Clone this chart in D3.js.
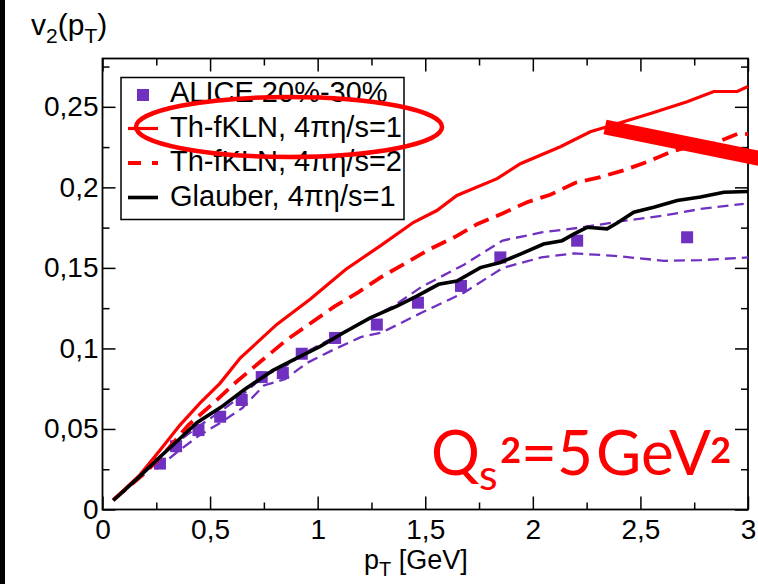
<!DOCTYPE html>
<html>
<head>
<meta charset="utf-8">
<script src="https://cdn.jsdelivr.net/npm/d3@7"></script>
<style>
  body { margin: 0; background: #fff; }
  svg { display: block; }
</style>
</head>
<body>
<div id="chart"></div>
<script>
// ---- data ----
var xTicks = [0, 0.5, 1, 1.5, 2, 2.5, 3];
var yTicks = [0, 0.05, 0.1, 0.15, 0.2, 0.25];
var xMinor = [0.25, 0.75, 1.25, 1.75, 2.25, 2.75];
var yMinor = [0.025, 0.075, 0.125, 0.175, 0.225, 0.275];

// ALICE 20%-30%
var aliceX = [0.267, 0.342, 0.446, 0.547, 0.647, 0.740, 0.838, 0.926, 1.081, 1.275, 1.466, 1.666, 1.849, 2.206, 2.717];
var aliceY = [0.0285, 0.0393, 0.0493, 0.0576, 0.068, 0.0822, 0.0847, 0.0967, 0.1065, 0.1148, 0.1284, 0.1388, 0.1565, 0.1669, 0.169];

// Th-fKLN, 4pi eta/s = 1
var fkln1X = [0.05, 0.174, 0.267, 0.36, 0.453, 0.547, 0.64, 0.81, 0.965, 1.13, 1.291, 1.446, 1.554, 1.647, 1.834, 1.942, 2.128, 2.267, 2.345, 2.547, 2.717, 2.841, 2.95, 3.0];
var fkln1Y = [0.006, 0.0215, 0.0368, 0.0524, 0.066, 0.0785, 0.094, 0.1149, 0.1305, 0.149, 0.1637, 0.1783, 0.1856, 0.195, 0.2054, 0.2147, 0.2252, 0.2345, 0.2376, 0.2459, 0.2532, 0.2595, 0.2595, 0.2626];

// Th-fKLN, 4pi eta/s = 2
var fkln2X = [0.05, 0.2, 0.3, 0.4, 0.515, 0.62, 0.736, 0.853, 0.965, 1.077, 1.19, 1.291, 1.422, 1.515, 1.635, 1.743, 1.864, 1.973, 2.081, 2.198, 2.314, 2.422, 2.531, 2.64, 2.75, 2.841, 2.957, 3.0];
var fkln2Y = [0.006, 0.023, 0.037, 0.0525, 0.066, 0.079, 0.092, 0.105, 0.1155, 0.1259, 0.135, 0.144, 0.154, 0.1612, 0.169, 0.1773, 0.1841, 0.1908, 0.1954, 0.2029, 0.2064, 0.2106, 0.2158, 0.222, 0.226, 0.2272, 0.2335, 0.233];

// Glauber, 4pi eta/s = 1
var glauberX = [0.05, 0.174, 0.267, 0.36, 0.44, 0.55, 0.66, 0.79, 0.903, 1.012, 1.12, 1.244, 1.368, 1.461, 1.562, 1.647, 1.756, 1.849, 1.942, 2.05, 2.136, 2.19, 2.252, 2.345, 2.392, 2.469, 2.562, 2.671, 2.779, 2.888, 3.0];
var glauberY = [0.0056, 0.0207, 0.0326, 0.0441, 0.054, 0.0634, 0.0745, 0.0862, 0.094, 0.1013, 0.1097, 0.119, 0.1263, 0.1325, 0.1398, 0.1419, 0.1502, 0.1534, 0.1586, 0.1648, 0.1669, 0.171, 0.1752, 0.1742, 0.1779, 0.1846, 0.1877, 0.1918, 0.194, 0.197, 0.1974];

// data band (purple dashed)
var bandUpX = [0.25, 0.35, 0.45, 0.55, 0.65, 0.75, 0.85, 0.95, 1.05, 1.2, 1.35, 1.48, 1.68, 1.86, 2.04, 2.22, 2.41, 2.61, 2.78, 2.98];
var bandUpY = [0.031, 0.042, 0.052, 0.061, 0.071, 0.083, 0.089, 0.098, 0.105, 0.116, 0.126, 0.138, 0.152, 0.167, 0.172, 0.175, 0.179, 0.1825, 0.1866, 0.1898];
var bandLoX = [0.25, 0.35, 0.45, 0.55, 0.65, 0.75, 0.85, 0.95, 1.07, 1.2, 1.3, 1.48, 1.68, 1.86, 2.04, 2.19, 2.38, 2.61, 2.78, 3.0];
var bandLoY = [0.025, 0.036, 0.046, 0.054, 0.063, 0.077, 0.081, 0.091, 0.099, 0.107, 0.110, 0.122, 0.1346, 0.150, 0.1565, 0.159, 0.1575, 0.1544, 0.1548, 0.1565];

var legendLabels = ["ALICE 20%-30%", "Th-fKLN, 4\u03c0\u03b7/s=1", "Th-fKLN, 4\u03c0\u03b7/s=2", "Glauber, 4\u03c0\u03b7/s=1"];

var red = "#ff0000";
var purple = "#7030c0";
var sans = "'Liberation Sans', Arial, sans-serif";
var qf = "Lato, 'Open Sans', sans-serif";

// ---- layout ----
var svgWidth = 758;
var svgHeight = 584;
var plot = { left: 102.5, right: 748, top: 58.5, bottom: 509.5 };

var svg = d3.select("#chart").append("svg")
  .attr("width", svgWidth)
  .attr("height", svgHeight)
  .style("font-family", sans);

// dark strip on the left edge of the slide
svg.append("rect").attr("x", 0).attr("y", 0).attr("width", 5).attr("height", svgHeight).attr("fill", "#000");

var x = d3.scaleLinear().domain([0, 3]).range([plot.left, plot.right]);
var y = d3.scaleLinear().domain([0, 0.28]).range([plot.bottom, plot.top]);

function fmt(d) { return String(d).replace(".", ","); }
function zip(xs, ys) { return xs.map(function(v, i) { return [v, ys[i]]; }); }

// axes with inward ticks (bottom/left labelled, top/right mirrored)
var gx = svg.append("g").attr("transform", "translate(0," + plot.bottom + ")")
  .call(d3.axisBottom(x).tickValues(xTicks).tickSize(-13).tickPadding(10).tickFormat(fmt));
svg.append("g").attr("transform", "translate(0," + plot.bottom + ")")
  .call(d3.axisBottom(x).tickValues(xMinor).tickSize(-7).tickFormat(""));
var gy = svg.append("g").attr("transform", "translate(" + plot.left + ",0)")
  .call(d3.axisLeft(y).tickValues(yTicks).tickSize(-13).tickPadding(4).tickFormat(fmt));
svg.append("g").attr("transform", "translate(" + plot.left + ",0)")
  .call(d3.axisLeft(y).tickValues(yMinor).tickSize(-7).tickFormat(""));
svg.append("g").attr("transform", "translate(0," + plot.top + ")")
  .call(d3.axisTop(x).tickValues(xTicks).tickSize(-13).tickFormat(""));
svg.append("g").attr("transform", "translate(0," + plot.top + ")")
  .call(d3.axisTop(x).tickValues(xMinor).tickSize(-7).tickFormat(""));
svg.append("g").attr("transform", "translate(" + plot.right + ",0)")
  .call(d3.axisRight(y).tickValues(yTicks).tickSize(-13).tickFormat(""));
svg.append("g").attr("transform", "translate(" + plot.right + ",0)")
  .call(d3.axisRight(y).tickValues(yMinor).tickSize(-7).tickFormat(""));

svg.selectAll(".domain").remove();
svg.selectAll(".tick line").attr("stroke", "#000").attr("stroke-width", 1.5);
gx.selectAll("text").attr("font-size", 28).attr("fill", "#000");
gy.selectAll("text").attr("font-size", 28).attr("fill", "#000");
svg.selectAll("g").attr("font-family", null);

svg.append("rect")
  .attr("x", plot.left).attr("y", plot.top)
  .attr("width", plot.right - plot.left).attr("height", plot.bottom - plot.top)
  .attr("fill", "none").attr("stroke", "#000").attr("stroke-width", 1.8);

// ---- marks ----
var line = d3.line().x(function(d) { return x(d[0]); }).y(function(d) { return y(d[1]); });

svg.selectAll("rect.alice")
  .data(zip(aliceX, aliceY))
  .enter().append("rect")
  .attr("class", "alice")
  .attr("x", function(d) { return x(d[0]) - 6; })
  .attr("y", function(d) { return y(d[1]) - 6; })
  .attr("width", 12).attr("height", 12)
  .attr("fill", purple);

[[bandUpX, bandUpY], [bandLoX, bandLoY]].forEach(function(b) {
  svg.append("path").datum(zip(b[0], b[1]))
    .attr("d", line).attr("fill", "none")
    .attr("stroke", purple).attr("stroke-width", 2.3)
    .attr("stroke-dasharray", "11,6");
});

svg.append("path").datum(zip(fkln2X, fkln2Y))
  .attr("d", line).attr("fill", "none")
  .attr("stroke", red).attr("stroke-width", 3.8)
  .attr("stroke-dasharray", "16,8");

svg.append("path").datum(zip(fkln1X, fkln1Y))
  .attr("d", line).attr("fill", "none")
  .attr("stroke", red).attr("stroke-width", 3.2);

svg.append("path").datum(zip(glauberX, glauberY))
  .attr("d", line).attr("fill", "none")
  .attr("stroke", "#000").attr("stroke-width", 3.6);

// ---- legend ----
var legend = svg.append("g");
legend.append("rect")
  .attr("x", 121).attr("y", 77.5).attr("width", 283).attr("height", 142)
  .attr("fill", "#fff").attr("stroke", "#000").attr("stroke-width", 1.5);
var rowY = [102, 136.5, 171, 205.5];
legend.append("rect").attr("x", 137).attr("y", rowY[0] - 13).attr("width", 12).attr("height", 12).attr("fill", purple);
legend.append("line").attr("x1", 128).attr("x2", 158).attr("y1", rowY[1] - 8).attr("y2", rowY[1] - 8)
  .attr("stroke", red).attr("stroke-width", 3.2);
legend.append("line").attr("x1", 128).attr("x2", 158).attr("y1", rowY[2] - 8).attr("y2", rowY[2] - 8)
  .attr("stroke", red).attr("stroke-width", 3.8).attr("stroke-dasharray", "13,11");
legend.append("line").attr("x1", 128).attr("x2", 158).attr("y1", rowY[3] - 8).attr("y2", rowY[3] - 8)
  .attr("stroke", "#000").attr("stroke-width", 3.6);
legend.selectAll("text.lab").data(legendLabels).enter().append("text")
  .attr("class", "lab")
  .attr("x", 170).attr("y", function(d, i) { return rowY[i]; })
  .attr("font-size", 29).attr("fill", "#000")
  .text(function(d) { return d; });

// ---- axis titles ----
var yt = svg.append("text").attr("x", 31).attr("y", 35).attr("font-size", 30).attr("fill", "#000");
yt.append("tspan").text("v");
yt.append("tspan").attr("font-size", 21).attr("dy", 8).text("2");
yt.append("tspan").attr("dy", -8).text("(p");
yt.append("tspan").attr("font-size", 21).attr("dy", 8).text("T");
yt.append("tspan").attr("dy", -8).text(")");

var xt = svg.append("text").attr("x", 364).attr("y", 569).attr("font-size", 27).attr("fill", "#000");
xt.append("tspan").text("p");
xt.append("tspan").attr("font-size", 20).attr("dy", 7).text("T");
xt.append("tspan").attr("dy", -7).text(" [GeV]");

// ---- annotations ----
svg.append("ellipse")
  .attr("cx", 289).attr("cy", 127).attr("rx", 153).attr("ry", 30)
  .attr("fill", "none").attr("stroke", red).attr("stroke-width", 4.5);

svg.append("line")
  .attr("x1", 605).attr("y1", 127).attr("x2", 762).attr("y2", 159)
  .attr("stroke", red).attr("stroke-width", 15);

var q = svg.append("g").style("font-family", qf).attr("fill", red);
q.append("text").attr("x", 431).attr("y", 475).attr("font-size", 61).text("Q");
q.append("text").attr("x", 479).attr("y", 490).attr("font-size", 43).text("s");
q.append("text").attr("x", 499).attr("y", 495).attr("font-size", 70).text("\u00b2");
q.append("text").attr("x", 521).attr("y", 475).attr("font-size", 62).text("=5");
q.append("text").attr("x", 596).attr("y", 475).attr("font-size", 62).text("GeV");
q.append("text").attr("x", 709).attr("y", 495).attr("font-size", 70).text("\u00b2");
</script>
</body>
</html>
